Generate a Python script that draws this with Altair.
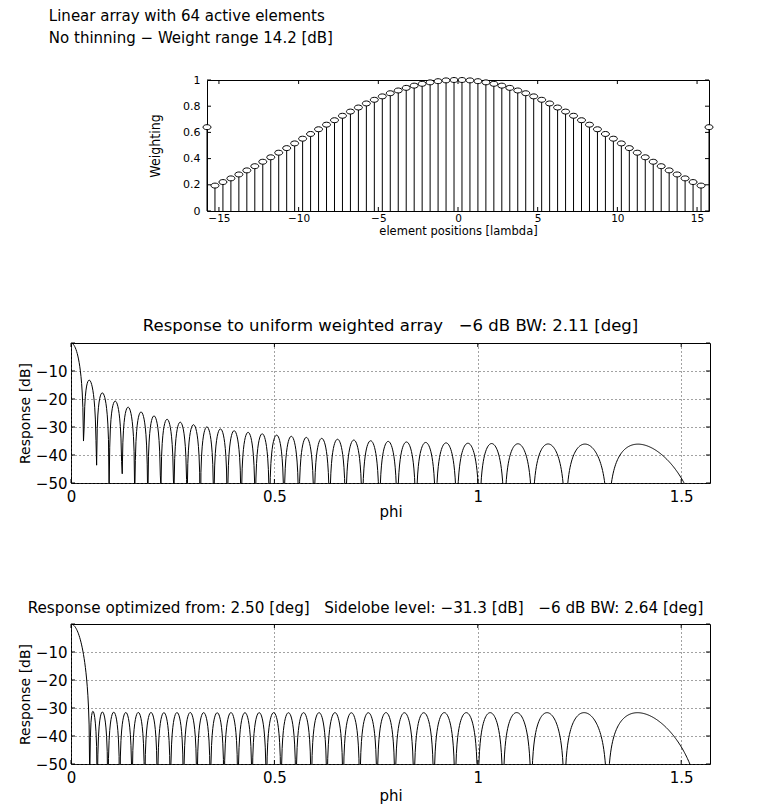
import numpy as np
import pandas as pd
import altair as alt

# ---------------- values ----------------
n_elements = 64
element_spacing = 0.5  # [lambda]
# optimized element weights from the array centre outwards (array is symmetric);
# the last value is the edge element
weights_half = [1.000, 0.997, 0.991, 0.982, 0.971, 0.957, 0.940, 0.920,
                0.899, 0.875, 0.849, 0.821, 0.790, 0.759, 0.727, 0.693,
                0.659, 0.624, 0.588, 0.552, 0.516, 0.480, 0.445, 0.410,
                0.376, 0.342, 0.310, 0.279, 0.249, 0.221, 0.194, 0.640]
n_grid = 1024  # samples of phi over [0, pi/2]
position_ticks = [-15, -10, -5, 0, 5, 10, 15]
weight_ticks = [0, 0.2, 0.4, 0.6, 0.8, 1]
phi_ticks = [0, 0.5, 1, 1.5]
db_ticks = [-50, -40, -30, -20, -10]
db_tick_marks = [-50, -40, -30, -20, -10, 0]
db_range = [-50, 0]

SP = "\u00a0"
header_lines = ["Linear array with 64 active elements",
                "No thinning \u2212 Weight range 14.2 [dB]"]
title_uniform = "Response to uniform weighted array" + SP * 3 + "\u22126 dB BW: 2.11 [deg]"
title_opt = ("Response optimized from: 2.50 [deg]" + SP * 3 + "Sidelobe level: \u221231.3 [dB]"
             + SP * 3 + "\u22126 dB BW: 2.64 [deg]")

# ---------------- derived arrays ----------------
positions = (np.arange(n_elements) - (n_elements - 1) / 2) * element_spacing
weights = np.array(weights_half[::-1] + weights_half)
uniform = np.ones(n_elements)


def db_response(w, phis):
    s = np.sin(np.asarray(phis, dtype=float))
    af = np.abs(np.exp(2j * np.pi * np.outer(s, positions)) @ w)
    return 20 * np.log10(np.maximum(af / np.sum(w), 1e-8))


phi = np.linspace(0, np.pi / 2, n_grid)
df_uni = pd.DataFrame({"phi": phi, "db": np.maximum(db_response(uniform, phi), -150)})
df_opt = pd.DataFrame({"phi": phi, "db": np.maximum(db_response(weights, phi), -150)})
df_w = pd.DataFrame({"pos": positions, "w": weights})

FONT = "DejaVu Sans"
NARROW = "Liberation Sans Narrow, DejaVu Sans Condensed, DejaVu Sans"
ELLIPSE = "M -1 0 A 1 0.62 0 1 0 1 0 A 1 0.62 0 1 0 -1 0 Z"


def inner_ticks(xt, yt, xd, yd, W, H, L=4):
    rows = []
    lx = L * (xd[1] - xd[0]) / W
    ly = L * (yd[1] - yd[0]) / H
    for t in xt:
        rows.append(dict(a=t, a2=t, b=yd[0], b2=yd[0] + ly))
        rows.append(dict(a=t, a2=t, b=yd[1], b2=yd[1] - ly))
    for t in yt:
        rows.append(dict(a=xd[0], a2=xd[0] + lx, b=t, b2=t))
        rows.append(dict(a=xd[1], a2=xd[1] - lx, b=t, b2=t))
    return pd.DataFrame(rows)


def axis(values, fmt, title_font, title_size, label_size, label_pad, title_pad, grid):
    return alt.Axis(values=values, format=fmt, labelFont=FONT, labelFontSize=label_size,
                    labelPadding=label_pad, labelColor="black", labelFlush=False,
                    labelOverlap=False, titleFont=title_font, titleFontSize=title_size,
                    titleFontWeight="normal", titleColor="black", titlePadding=title_pad,
                    ticks=False, domain=False, grid=grid, gridColor="#444",
                    gridDash=[1, 3], gridWidth=1)


# ---------------- top panel: weights ----------------
TW, TH = 502, 131
xd_top = [positions[0], positions[-1]]
xs_top = alt.Scale(domain=xd_top, nice=False, zero=False)
ys_top = alt.Scale(domain=[0, 1], nice=False)
ax_top_x = axis(position_ticks, "d", FONT, 11.5, 10.5, 2, 1.5, False)
ax_top_y = axis(weight_ticks, "~g", NARROW, 14, 11, 7, 20, False)
xt_title = "element positions [lambda]"
yt_title = "Weighting"

stems = alt.Chart(df_w).mark_rule(color="black", strokeWidth=1).encode(
    x=alt.X("pos:Q", scale=xs_top, axis=ax_top_x, title=xt_title),
    y=alt.Y("w:Q", scale=ys_top, axis=ax_top_y, title=yt_title),
    y2=alt.datum(0),
)
dots = alt.Chart(df_w).mark_point(shape=ELLIPSE, size=64, filled=True, fill="white",
                                  stroke="black", strokeWidth=1, opacity=1).encode(
    x=alt.X("pos:Q", scale=xs_top, axis=ax_top_x, title=xt_title),
    y=alt.Y("w:Q", scale=ys_top, axis=ax_top_y, title=yt_title),
)
tk_top = alt.Chart(inner_ticks(position_ticks, weight_ticks, xd_top, [0, 1], TW, TH)).mark_rule(
    color="black", strokeWidth=1).encode(
    x=alt.X("a:Q", scale=xs_top, axis=ax_top_x, title=xt_title), x2="a2",
    y=alt.Y("b:Q", scale=ys_top, axis=ax_top_y, title=yt_title), y2="b2",
)
top = alt.layer(stems, dots, tk_top).properties(width=TW, height=TH)

spacer = alt.Chart(pd.DataFrame({"v": [0]})).mark_point(opacity=0).encode(
    x=alt.value(0), y=alt.value(0)
).properties(width=67, height=10, view=alt.ViewBackground(strokeOpacity=0, fillOpacity=0))
row1 = alt.hconcat(spacer, top, spacing=10)

# ---------------- response panels ----------------
RW, RH = 639, 140
xd_r = [0, np.pi / 2]
xs_r = alt.Scale(domain=xd_r, nice=False, zero=False)
ys_r = alt.Scale(domain=db_range, nice=False, zero=False)
ax_r_y = axis(db_ticks, "d", FONT, 14, 15, 4, 3, True)


def response_panel(df, title, title_size, title_dx, title_offset, x_title_pad):
    ax_r_x = axis(phi_ticks, "~g", FONT, 15, 15, 6, x_title_pad, True)
    line = alt.Chart(df).mark_line(color="black", strokeWidth=1, clip=True).encode(
        x=alt.X("phi:Q", scale=xs_r, axis=ax_r_x, title="phi"),
        y=alt.Y("db:Q", scale=ys_r, axis=ax_r_y, title="Response [dB]"),
    )
    tk = alt.Chart(inner_ticks(phi_ticks, db_tick_marks, xd_r, db_range, RW, RH)).mark_rule(
        color="black", strokeWidth=1).encode(
        x=alt.X("a:Q", scale=xs_r, axis=ax_r_x, title="phi"), x2="a2",
        y=alt.Y("b:Q", scale=ys_r, axis=ax_r_y, title="Response [dB]"), y2="b2",
    )
    return alt.layer(line, tk).properties(
        width=RW, height=RH,
        title=alt.TitleParams(title, font=FONT, fontSize=title_size, fontWeight="normal",
                              color="black", offset=title_offset, dx=title_dx))


mid = response_panel(df_uni, title_uniform, 16.5, 0, 8, 0)
bot = response_panel(df_opt, title_opt, 15.2, -25, 7, 3)

chart = alt.vconcat(row1, mid, bot, spacing=80).properties(
    title=alt.TitleParams(header_lines, anchor="start", font=FONT, fontSize=15,
                          fontWeight="normal", color="black", lineHeight=22,
                          offset=27.5, dx=31),
    padding={"left": 17, "top": 9, "right": 5, "bottom": 2},
    background="white",
).configure_view(stroke="black", strokeWidth=1)

chart.save("out.html", embed_options={"renderer": "svg", "actions": False})
